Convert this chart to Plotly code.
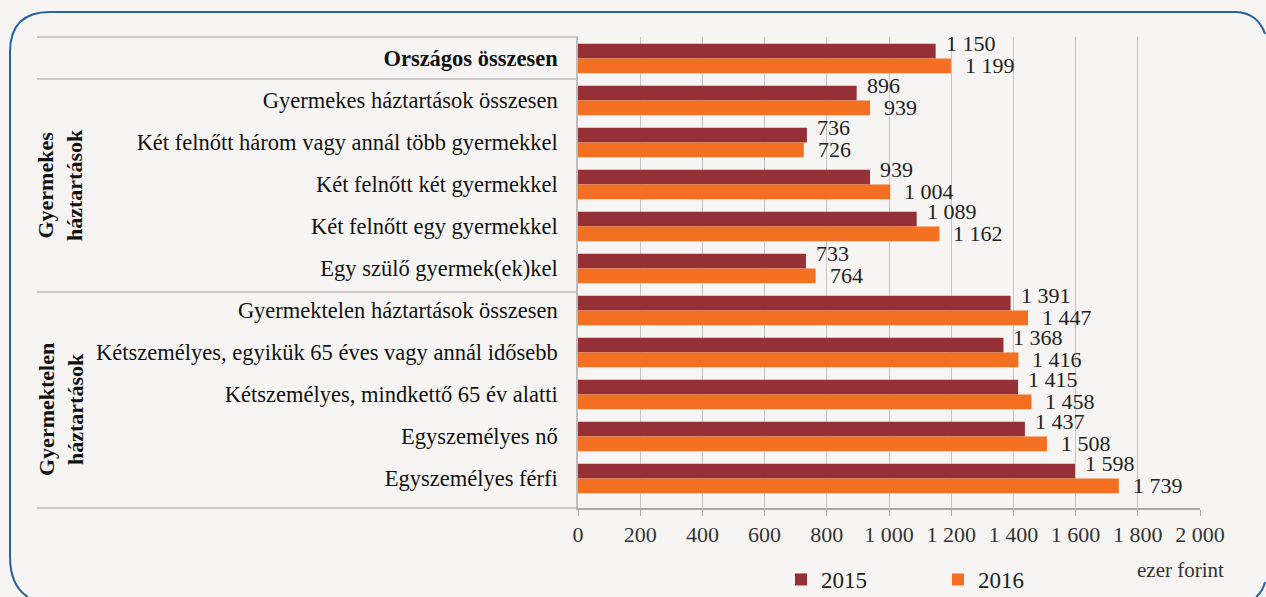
import plotly.graph_objects as go

W, H = 1266, 597

categories = [
    "Országos összesen",
    "Gyermekes háztartások összesen",
    "Két felnőtt három vagy annál több gyermekkel",
    "Két felnőtt két gyermekkel",
    "Két felnőtt egy gyermekkel",
    "Egy szülő gyermek(ek)kel",
    "Gyermektelen háztartások összesen",
    "Kétszemélyes, egyikük 65 éves vagy annál idősebb",
    "Kétszemélyes, mindkettő 65 év alatti",
    "Egyszemélyes nő",
    "Egyszemélyes férfi",
]
tick_labels = ["<b>Országos összesen</b>"] + categories[1:]
values_2015 = [1150, 896, 736, 939, 1089, 733, 1391, 1368, 1415, 1437, 1598]
values_2016 = [1199, 939, 726, 1004, 1162, 764, 1447, 1416, 1458, 1508, 1739]
x_ticks = [0, 200, 400, 600, 800, 1000, 1200, 1400, 1600, 1800, 2000]

COL15 = "#953037"
COL16 = "#f37022"
BG = "#f6f5f3"
FONT = "Liberation Serif, Times New Roman, serif"

def px(x):
    return x / W

def py(y):
    return 1 - y / H

X0, X1 = 578, 1200
Y0, Y1 = 37, 508

fig = go.Figure()
fig.add_trace(go.Bar(y=categories, x=values_2015, orientation="h", name="2015",
                     marker=dict(color=COL15, line=dict(width=0))))
fig.add_trace(go.Bar(y=categories, x=values_2016, orientation="h", name="2016",
                     marker=dict(color=COL16, line=dict(width=0))))

annotations = []
for cat, v in zip(categories, values_2015):
    annotations.append(dict(x=v, y=cat, xref="x", yref="y", text=f"{v:,}".replace(",", " "),
                            showarrow=False, xanchor="left", yanchor="middle",
                            xshift=8, yshift=15, font=dict(family=FONT, size=22, color="#222")))
for cat, v in zip(categories, values_2016):
    annotations.append(dict(x=v, y=cat, xref="x", yref="y", text=f"{v:,}".replace(",", " "),
                            showarrow=False, xanchor="left", yanchor="middle",
                            xshift=12, yshift=-7, font=dict(family=FONT, size=22, color="#222")))

annotations.append(dict(x=px(60), y=py(185), xref="paper", yref="paper",
                        xanchor="center", yanchor="middle",
                        text="<b>Gyermekes<br>háztartások</b>", textangle=-90,
                        showarrow=False, font=dict(family=FONT, size=22, color="#111"),
                        align="center"))
annotations.append(dict(x=px(61), y=py(410), xref="paper", yref="paper",
                        xanchor="center", yanchor="middle",
                        text="<b>Gyermektelen<br>háztartások</b>", textangle=-90,
                        showarrow=False, font=dict(family=FONT, size=22, color="#111"),
                        align="center"))
annotations.append(dict(x=px(1180), y=py(570), xref="paper", yref="paper",
                        xanchor="center", yanchor="middle",
                        text="ezer forint", showarrow=False,
                        font=dict(family=FONT, size=21, color="#333")))

shapes = []
for yy in [Y0, 79, 292, Y1]:
    shapes.append(dict(type="line", xref="paper", yref="paper",
                       x0=px(37), x1=px(X0), y0=py(yy), y1=py(yy),
                       line=dict(color="#bdbdbd", width=1.5)))

def P(x, y):
    return f"{px(x)},{py(y)}"

path_a = (f"M {P(28, 597)} Q {P(10, 586)} {P(10, 556)} L {P(10, 52)} "
          f"Q {P(10, 12)} {P(50, 12)} L {P(1236, 12)} Q {P(1258, 13)} {P(1265, 34)}")
path_b = f"M {P(1256, 597)} Q {P(1263, 591)} {P(1265, 582)}"
for pth in (path_a, path_b):
    shapes.append(dict(type="path", xref="paper", yref="paper", path=pth,
                       line=dict(color="#2462a4", width=2), fillcolor="rgba(0,0,0,0)"))

fig.update_layout(
    template=None,
    width=W, height=H, autosize=False,
    margin=dict(l=0, r=0, t=0, b=0, autoexpand=False),
    paper_bgcolor=BG, plot_bgcolor=BG,
    barmode="group", bargap=0.3, bargroupgap=0,
    separators=", ",
    font=dict(family=FONT, size=20, color="#222"),
    xaxis=dict(domain=[px(X0), px(X1)], range=[0, 2000], tickvals=x_ticks,
               tickformat=",", showgrid=True, gridcolor="#c4c4c4", gridwidth=1,
               showline=True, linecolor="#a9a9a9", linewidth=1.5,
               ticks="outside", ticklen=6, tickcolor="#a9a9a9",
               zeroline=False, fixedrange=True, automargin=False,
               tickfont=dict(family=FONT, size=22, color="#333")),
    yaxis=dict(domain=[py(Y1), py(Y0)], type="category",
               categoryorder="array", categoryarray=categories,
               tickvals=categories, ticktext=tick_labels,
               autorange="reversed", showline=True, linecolor="#bdbdbd", linewidth=1.5,
               ticks="", ticklabelstandoff=14, showgrid=False, zeroline=False,
               fixedrange=True, automargin=False,
               tickfont=dict(family=FONT, size=22.5, color="#111")),
    legend=dict(orientation="h", x=px(781), y=py(558), xanchor="left", yanchor="top",
                bgcolor="rgba(0,0,0,0)", entrywidth=112, entrywidthmode="pixels",
                font=dict(family=FONT, size=23, color="#222")),
    annotations=annotations,
    shapes=shapes,
)

fig.write_html("out.html",
               config={"displayModeBar": False},
               post_script=("document.documentElement.style.margin='0';"
                            "document.body.style.margin='0';"
                            "document.documentElement.style.overflow='hidden';"
                            "document.body.style.overflow='hidden';"
                            "document.body.style.background='%s';" % BG))
